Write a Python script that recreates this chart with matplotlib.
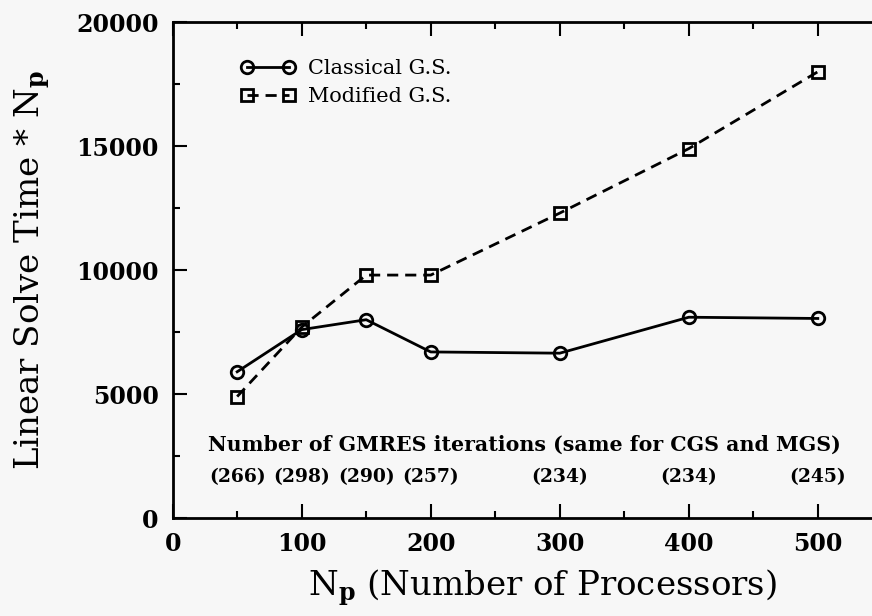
import matplotlib
matplotlib.use('Agg')
from matplotlib import pyplot as plt
from matplotlib.ticker import MultipleLocator

# data
procs = [50, 100, 150, 200, 300, 400, 500]
cgs_time = [5900, 7600, 8000, 6700, 6650, 8100, 8050]
mgs_time = [4900, 7700, 9800, 9800, 12300, 14900, 18000]
gmres_iters = [266, 298, 290, 257, 234, 234, 245]

plt.rcParams['font.family'] = 'DejaVu Serif'
plt.rcParams['mathtext.fontset'] = 'dejavuserif'

fig = plt.figure(figsize=(8.72, 6.16), dpi=100)
fig.patch.set_facecolor('#f7f7f7')
ax = fig.add_axes([0.198, 0.159, 0.802, 0.805])
ax.set_facecolor('#f7f7f7')

ax.plot(procs, cgs_time, c='black', lw=2, marker='o', ms=9, mfc='none',
        mew=2, label='Classical G.S.')
ax.plot(procs, mgs_time, c='black', lw=2, ls=(0, (4, 2.5)), marker='s', ms=9,
        mfc='none', mew=2, label='Modified G.S.')

ax.set_xlim(0, 542)
ax.set_ylim(0, 20000)
ax.xaxis.set_major_locator(MultipleLocator(100))
ax.xaxis.set_minor_locator(MultipleLocator(50))
ax.yaxis.set_major_locator(MultipleLocator(5000))
ax.yaxis.set_minor_locator(MultipleLocator(2500))
ax.tick_params(which='both', direction='in', top=True, width=1.5)
ax.tick_params(which='major', length=10, labelsize=17, pad=10)
ax.tick_params(which='minor', length=5)
for lab in ax.get_xticklabels() + ax.get_yticklabels():
    lab.set_fontweight('bold')
ax.spines['right'].set_visible(False)
for s in ['left', 'bottom', 'top']:
    ax.spines[s].set_linewidth(2)

ax.set_xlabel(r'N$_\mathbf{p}$ (Number of Processors)', fontsize=24.5)
ax.set_ylabel(r'Linear Solve Time * N$_\mathbf{p}$', fontsize=24.5)
ax.xaxis.set_label_coords(0.529, -0.1)
ax.yaxis.set_label_coords(-0.173, 0.5)

ax.text(273, 2950, 'Number of GMRES iterations (same for CGS and MGS)',
        ha='center', va='center', fontsize=14.8, fontweight='bold')
for p, n in zip(procs, gmres_iters):
    ax.text(p, 1650, '(%d)' % n, ha='center', va='center', fontsize=13.5,
            fontweight='bold')

ax.legend(loc='upper left', frameon=False, fontsize=15, handlelength=2.6,
          numpoints=2, bbox_to_anchor=(0.08, 0.95), borderaxespad=0.2,
          labelspacing=0.4, handletextpad=0.6)

fig.savefig('out.png', dpi=100, facecolor=fig.get_facecolor())
